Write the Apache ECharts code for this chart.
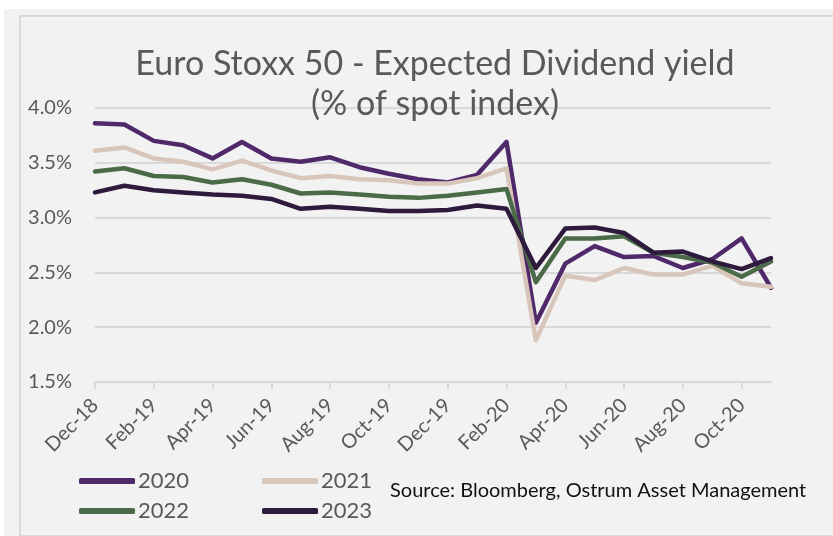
<!DOCTYPE html>
<html>
<head>
<meta charset="utf-8">
<script src="https://cdn.jsdelivr.net/npm/echarts@6/dist/echarts.min.js"></script>
<style>
  body { margin: 0; background: #fff; }
  #panel { position: absolute; left: 4px; top: 9px; width: 829px; height: 527px; background: #f2f2f2; }
  #frame { position: absolute; left: 19px; top: 15px; width: 830px; height: 518px; border: 2px solid #d9d9d9; }
  #chart { position: absolute; left: 0; top: 0; width: 833px; height: 536px; }
</style>
</head>
<body>
<div id="panel"></div>
<div id="frame"></div>
<div id="chart"></div>
<script>
const months = ['Dec-18', 'Jan-19', 'Feb-19', 'Mar-19', 'Apr-19', 'May-19', 'Jun-19', 'Jul-19',
  'Aug-19', 'Sep-19', 'Oct-19', 'Nov-19', 'Dec-19', 'Jan-20', 'Feb-20', 'Mar-20',
  'Apr-20', 'May-20', 'Jun-20', 'Jul-20', 'Aug-20', 'Sep-20', 'Oct-20', 'Nov-20']

const yield2020 = [3.86, 3.85, 3.70, 3.66, 3.54, 3.69, 3.54, 3.51, 3.55, 3.46, 3.40, 3.35,
  3.32, 3.39, 3.69, 2.04, 2.58, 2.74, 2.64, 2.65, 2.54, 2.62, 2.81, 2.36]
const yield2021 = [3.61, 3.64, 3.54, 3.51, 3.44, 3.52, 3.43, 3.36, 3.38, 3.35, 3.34, 3.31,
  3.31, 3.36, 3.45, 1.88, 2.47, 2.43, 2.54, 2.48, 2.48, 2.56, 2.40, 2.37]
const yield2022 = [3.42, 3.45, 3.38, 3.37, 3.32, 3.35, 3.30, 3.22, 3.23, 3.21, 3.19, 3.18,
  3.20, 3.23, 3.26, 2.41, 2.81, 2.81, 2.83, 2.68, 2.64, 2.59, 2.46, 2.60]
const yield2023 = [3.23, 3.29, 3.25, 3.23, 3.21, 3.20, 3.17, 3.08, 3.10, 3.08, 3.06, 3.06,
  3.07, 3.11, 3.08, 2.54, 2.90, 2.91, 2.86, 2.68, 2.69, 2.60, 2.53, 2.63]

const font = 'Lato'
const grey = '#595959'

const chart = echarts.init(document.getElementById('chart'))

function lineSeries(name, data, color) {
  return {
    name: name,
    type: 'line',
    data: data,
    showSymbol: false,
    symbol: 'none',
    color: color,
    lineStyle: { width: 4.5, color: color, cap: 'round', join: 'round' },
    animation: false
  }
}

const legendCommon = {
  icon: 'roundRect',
  itemWidth: 56,
  itemHeight: 6,
  itemGap: 73,
  textStyle: { color: grey, fontSize: 22, fontFamily: font, padding: [0, 0, 0, -2] }
}

const option = {
  backgroundColor: 'transparent',
  title: {
    text: 'Euro Stoxx 50 - Expected Dividend yield\n(% of spot index)',
    left: 430,
    top: 39,
    textAlign: 'center',
    textStyle: {
      fontFamily: font,
      fontSize: 34,
      lineHeight: 40,
      fontWeight: 'normal',
      color: grey
    }
  },
  legend: [
    Object.assign({ data: ['2020', '2021'], left: 74, top: 465 }, legendCommon),
    Object.assign({ data: ['2022', '2023'], left: 74, top: 495 }, legendCommon)
  ],
  graphic: [{
    type: 'text',
    left: 390,
    top: 481,
    style: {
      text: 'Source: Bloomberg, Ostrum Asset Management',
      fill: '#111',
      font: '20px Lato'
    }
  }],
  grid: { left: 95, right: 62, top: 108, bottom: 154 },
  xAxis: {
    type: 'category',
    data: months,
    boundaryGap: false,
    axisLine: { lineStyle: { color: '#d9d9d9', width: 2 } },
    axisTick: { show: true, interval: 1, length: 7, lineStyle: { color: '#d9d9d9', width: 2 } },
    axisLabel: { interval: 1, rotate: 45, margin: 20, color: grey, fontSize: 20, fontFamily: font }
  },
  yAxis: {
    type: 'value',
    min: 1.5,
    max: 4.0,
    interval: 0.5,
    axisLine: { show: false },
    axisTick: { show: false },
    axisLabel: {
      formatter: v => v.toFixed(1) + '%',
      margin: 23,
      color: grey,
      fontSize: 20,
      fontFamily: font
    },
    splitLine: { lineStyle: { color: '#d9d9d9', width: 2 } }
  },
  series: [
    lineSeries('2020', yield2020, '#50296b'),
    lineSeries('2021', yield2021, '#d8c6ba'),
    lineSeries('2022', yield2022, '#4b6b48'),
    lineSeries('2023', yield2023, '#2e1a3c')
  ]
}
chart.setOption(option, true)
</script>
</body>
</html>
